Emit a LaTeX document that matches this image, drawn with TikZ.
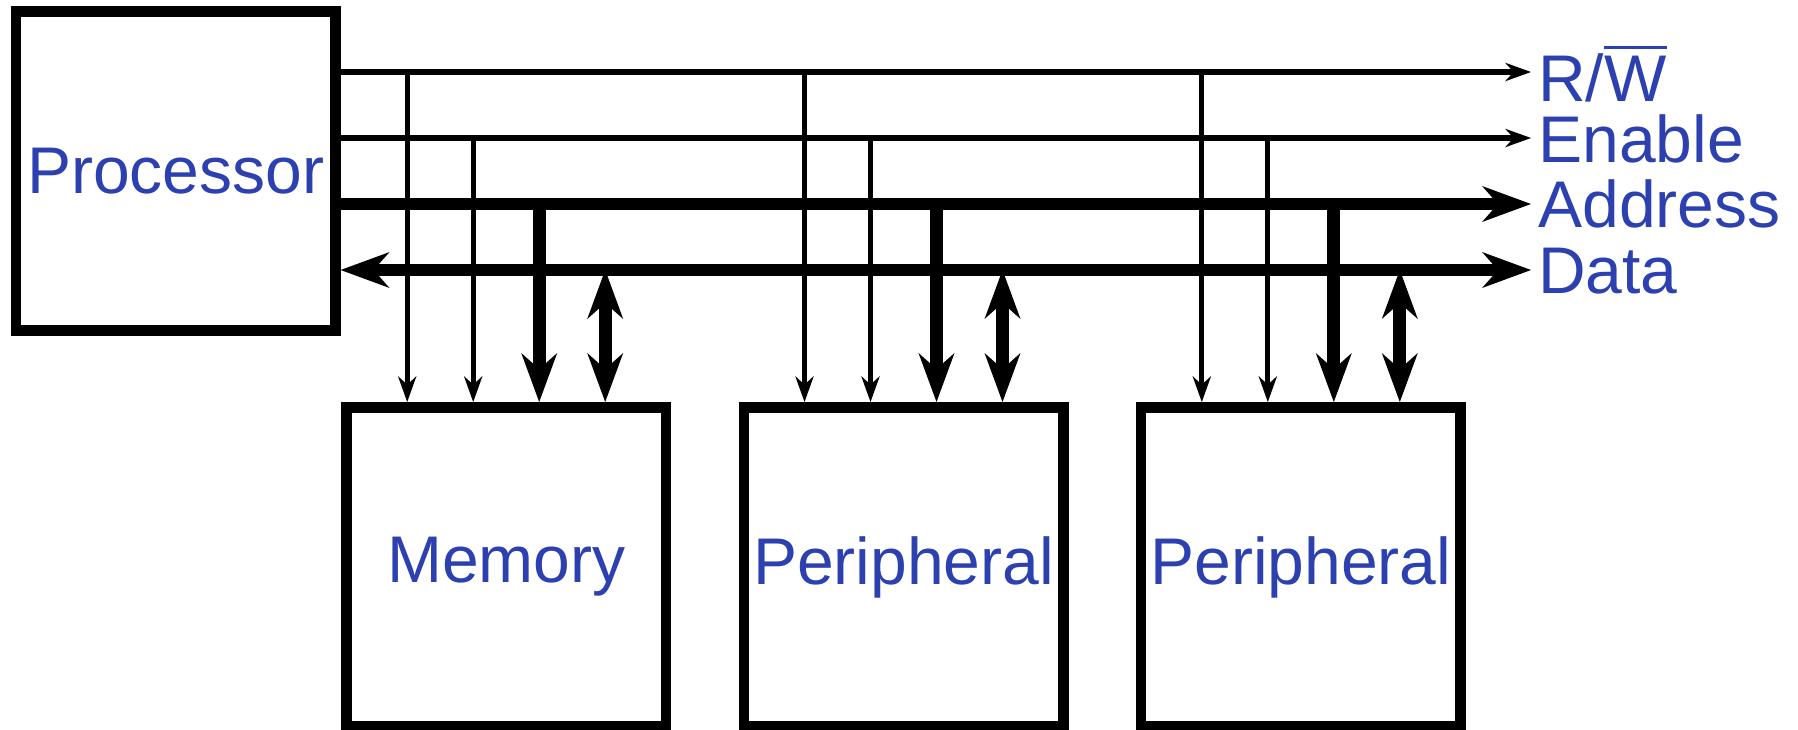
\documentclass[tikz,border=0pt]{standalone}
\usepackage{fontspec}
\setmainfont{Liberation Sans}
\usepackage{xcolor}
\usetikzlibrary{arrows.meta,calc}

\definecolor{lblue}{RGB}{44,64,176}
% bar over a letter (active low signal)
\newcommand{\negbar}[1]{\setbox0\hbox{#1}\rlap{\rule[\dimexpr\ht0+0.105em\relax]{\wd0}{0.046em}}\box0}

\tikzset{
  smalltip/.tip={Stealth[length=19.5pt,width=14pt,inset=6.5pt,line width=0pt]},
  bigtip/.tip={Stealth[length=36.75pt,width=27pt,inset=12pt,line width=0pt]},
}

\begin{document}
\begin{tikzpicture}[x=0.75pt,y=0.75pt,yscale=-1,xscale=1,
  box/.style={draw,line width=8pt,minimum width=239.5pt,minimum height=239.5pt,inner sep=0pt,text=lblue,font=\fontsize{49.5}{55}\selectfont},
  lbl/.style={anchor=base west,inner sep=0pt,text=lblue,font=\fontsize{49.5}{55}\selectfont},
  ctrl/.style={line width=3.9pt,-smalltip},
  bus/.style={line width=9.5pt,-bigtip},
  dbus/.style={line width=9.5pt,bigtip-bigtip}]
\useasboundingbox (0,0) rectangle (1798,729);

%Shape: Rectangle [id:cpu]
\node[box] (cpu) at (175.6,171) {Processor};
%Shape: Rectangle [id:mem]
\node[box] (mem) at (506.2,567) {Memory};
%Shape: Rectangle [id:perA]
\node[box] (perA) at (903.5,567) {Peripheral};
%Shape: Rectangle [id:perB]
\node[box] (perB) at (1300.8,567) {Peripheral};

% bus ends
\coordinate (rw) at (1531,72);
\coordinate (en) at (1531,138);
\coordinate (addr) at (1531,204);
\coordinate (data) at (1531,270);

%Straight Lines [id:buses]
\draw[ctrl] (cpu.east |- rw) -- (rw);
\draw[ctrl] (cpu.east |- en) -- (en);
\draw[bus] (cpu.east |- addr) -- (addr);
\draw[dbus] (cpu.east |- data) -- (data);

% Text Node
\node[lbl] (rwlbl) at (1538,101) {R/\negbar{W}};
% Text Node
\node[lbl] (enlbl) at (1538,162) {Enable};
% Text Node
\node[lbl] (addrlbl) at (1538,227) {Address};
% Text Node
\node[lbl] (datalbl) at (1538,293) {Data};

%Straight Lines [id:drops]
\foreach \b in {mem,perA,perB}{
  \coordinate (\b1) at ($(\b.north west)!0.2!(\b.north east)$);
  \coordinate (\b2) at ($(\b.north west)!0.4!(\b.north east)$);
  \coordinate (\b3) at ($(\b.north west)!0.6!(\b.north east)$);
  \coordinate (\b4) at ($(\b.north west)!0.8!(\b.north east)$);
  \draw[ctrl] (\b1 |- rw) -- (\b1);
  \draw[ctrl] (\b2 |- en) -- (\b2);
  \draw[bus] (\b3 |- addr) -- (\b3);
  \draw[dbus] (\b4 |- data) -- (\b4);
}

\end{tikzpicture}
\end{document}
